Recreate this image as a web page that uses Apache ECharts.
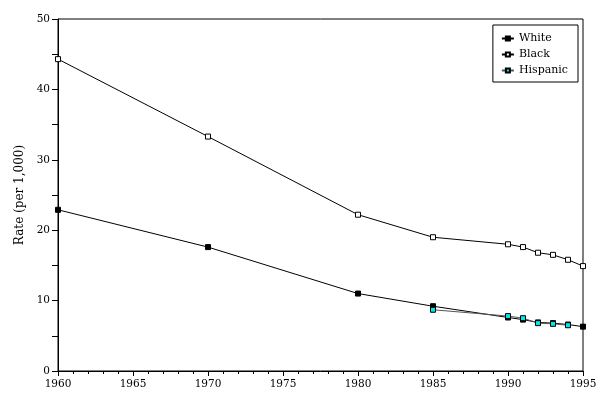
<!DOCTYPE html>
<html><head><meta charset="utf-8">
<script src="https://cdn.jsdelivr.net/npm/echarts@6/dist/echarts.min.js"></script>
<style>html,body{margin:0;padding:0;background:#fff}#c{width:612px;height:406px}</style>
</head><body><div id="c"></div>
<script>
const whiteYears = [1960, 1970, 1980, 1985, 1990, 1991, 1992, 1993, 1994, 1995];
const whiteRates = [22.9, 17.6, 11.0, 9.2, 7.6, 7.3, 6.9, 6.8, 6.6, 6.3];
const blackYears = [1960, 1970, 1980, 1985, 1990, 1991, 1992, 1993, 1994, 1995];
const blackRates = [44.3, 33.3, 22.2, 19.0, 18.0, 17.6, 16.8, 16.5, 15.8, 14.9];
const hispYears = [1985, 1990, 1991, 1992, 1993, 1994];
const hispRates = [8.7, 7.8, 7.5, 6.8, 6.7, 6.5];
const xTicks = [1960, 1965, 1970, 1975, 1980, 1985, 1990, 1995];
const yTicks = [0, 10, 20, 30, 40, 50];

const zip = (a, b) => a.map((v, i) => [v, b[i]]);
const font = 'DejaVu Serif';
const chart = echarts.init(document.getElementById('c'));
chart.setOption({
  animation: false,
  backgroundColor: '#fff',
  grid: { left: 58, right: 29, top: 19, bottom: 35, show: true, borderColor: '#000', borderWidth: 1 },
  legend: {
    orient: 'vertical', right: 34, top: 25,
    data: ['White', 'Black', 'Hispanic'],
    borderColor: '#000', borderWidth: 1, padding: [8, 10, 6, 8],
    itemWidth: 12, itemHeight: 5, itemGap: 5,
    textStyle: { fontFamily: font, fontSize: 11, color: '#000' }
  },
  xAxis: {
    type: 'value', min: 1960, max: 1995, interval: 5,
    axisLine: { lineStyle: { color: '#000', width: 1 } },
    axisTick: { length: 5, lineStyle: { color: '#000' } },
    minorTick: { show: true, splitNumber: 5, length: 3, lineStyle: { color: '#000' } },
    splitLine: { show: false },
    axisLabel: { fontFamily: font, fontSize: 10.5, color: '#000', margin: 8,
      formatter: v => xTicks.includes(v) ? String(v) : '' }
  },
  yAxis: {
    type: 'value', min: 0, max: 50, interval: 10,
    name: 'Rate (per 1,000)', nameLocation: 'middle', nameGap: 27,
    nameTextStyle: { fontFamily: font, fontSize: 12, color: '#000' },
    axisLine: { show: true, lineStyle: { color: '#000', width: 1 } },
    axisTick: { length: 6, lineStyle: { color: '#000' } },
    minorTick: { show: true, splitNumber: 2, length: 6, lineStyle: { color: '#000' } },
    splitLine: { show: false },
    axisLabel: { fontFamily: font, fontSize: 10.5, color: '#000', margin: 8,
      formatter: v => yTicks.includes(v) ? String(v) : '' }
  },
  series: [
    { name: 'White', type: 'line', data: zip(whiteYears, whiteRates), symbol: 'rect', symbolSize: 5,
      lineStyle: { color: '#000', width: 1 }, itemStyle: { color: '#000', borderColor: '#000', borderWidth: 1 }, z: 3 },
    { name: 'Black', type: 'line', data: zip(blackYears, blackRates), symbol: 'rect', symbolSize: 5,
      lineStyle: { color: '#000', width: 1 }, itemStyle: { color: '#fff', borderColor: '#000', borderWidth: 1 }, z: 3 },
    { name: 'Hispanic', type: 'line', data: zip(hispYears, hispRates), symbol: 'rect', symbolSize: 5,
      lineStyle: { color: '#555', width: 1 }, itemStyle: { color: '#00e8e8', borderColor: '#000', borderWidth: 1 }, z: 4 }
  ]
});
</script></body></html>
